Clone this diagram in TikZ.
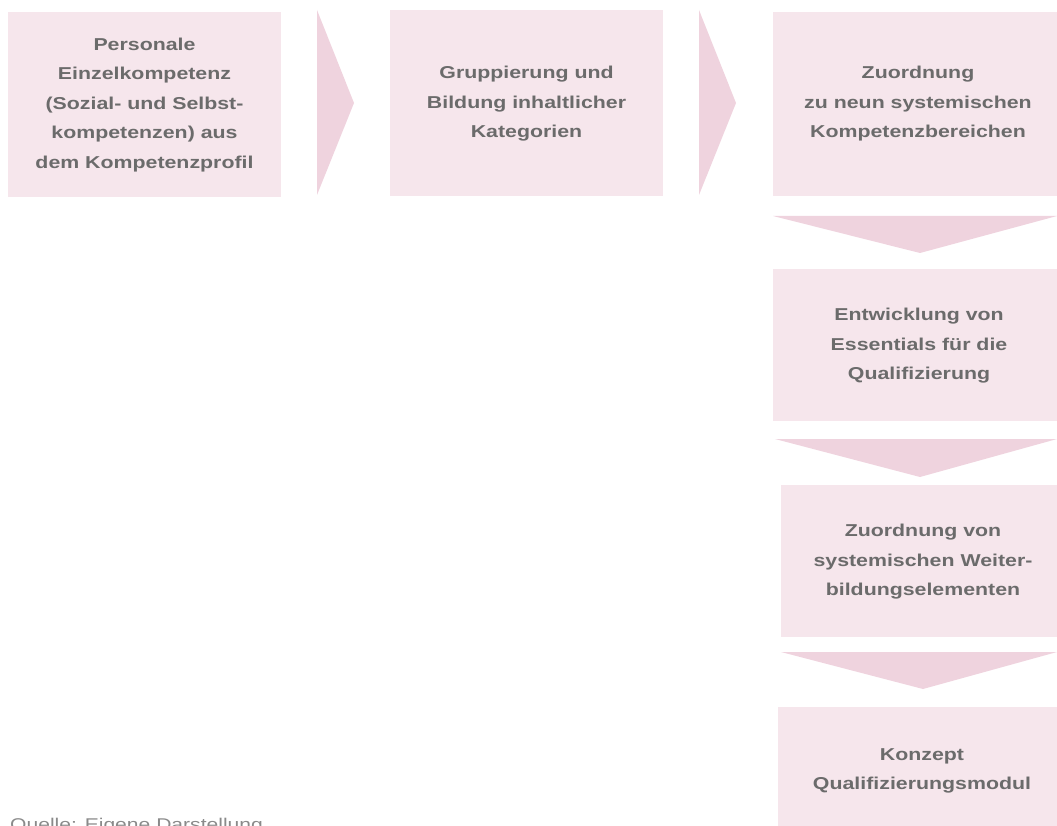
\documentclass[tikz,border=0pt]{standalone}
\usepackage{fontspec}
\setmainfont{Liberation Sans}
\newfontfamily\lblfont[FakeStretch=1.24]{Liberation Sans}
\definecolor{boxpink}{HTML}{F6E6EC}
\definecolor{arrowpink}{HTML}{EFD3DE}
\definecolor{txtgray}{HTML}{6B6B6B}
\definecolor{srcgray}{HTML}{8A8A8A}
\begin{document}
\begin{tikzpicture}[x=1pt,y=-1pt,
  stepbox/.style={fill=boxpink,draw=none},
  chevron/.style={fill=arrowpink,draw=none},
  lbl/.style={text=txtgray,font=\lblfont\fontsize{17.2}{29.5}\selectfont\bfseries,align=center,inner sep=0pt}]
\useasboundingbox (0,0) rectangle (1057,826);
\clip (0,0) rectangle (1057,826);
% boxes
\path[stepbox] (8,12) rectangle (281,197);
\path[stepbox] (390,10) rectangle (663,196);
\path[stepbox] (773,12) rectangle (1057,196);
\path[stepbox] (773,269) rectangle (1057,421);
\path[stepbox] (781,485) rectangle (1057,637);
\path[stepbox] (778,707) rectangle (1057,840);
% chevrons
\path[chevron] (317,10) -- (354,103) -- (317,195) -- cycle;
\path[chevron] (699,10) -- (736,103) -- (699,195) -- cycle;
\path[chevron] (773,216) -- (1057,216) -- (920,253) -- cycle;
\path[chevron] (775,439) -- (1057,439) -- (920,477) -- cycle;
\path[chevron] (781,652) -- (1057,652) -- (923,689) -- cycle;
% labels
\node[lbl] (t1) at (144.5,105) {Personale\\Einzelkompetenz\\(Sozial- und Selbst-\\kompetenzen) aus\\dem Kompetenzprofil};
\node[lbl] (t2) at (526.5,104) {Gruppierung und\\Bildung inhaltlicher\\Kategorien};
\node[lbl] (t3) at (918,104) {Zuordnung\\zu neun systemischen\\Kompetenzbereichen};
\node[lbl] (t4) at (919,346) {Entwicklung von\\Essentials für die\\Qualifizierung};
\node[lbl] (t5) at (923,562) {Zuordnung von\\systemischen Weiter-\\bildungselementen};
\node[lbl] (t6) at (922,771) {Konzept\\Qualifizierungsmodul};
\node[text=srcgray,font=\lblfont\fontsize{17}{20}\selectfont,anchor=base west,inner sep=0pt] (src) at (10,830) {Quelle: Eigene Darstellung};
\end{tikzpicture}
\end{document}
